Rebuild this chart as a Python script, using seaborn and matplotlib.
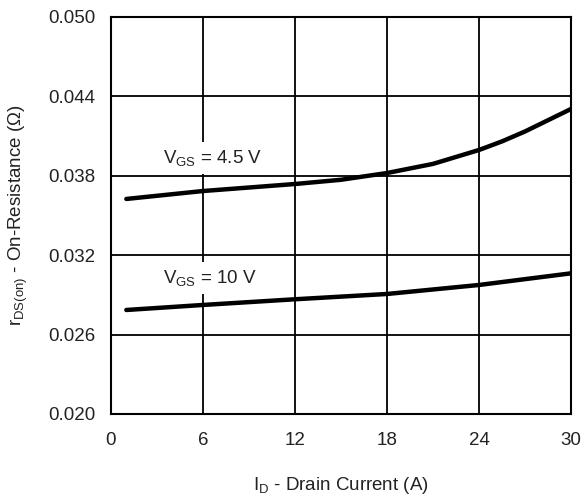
import matplotlib
matplotlib.use("Agg")
import matplotlib.pyplot as plt
import seaborn as sns
import pandas as pd

# Data
id_45 = [1, 6, 12, 15, 18, 21, 24, 25.5, 27, 28.5, 30]
r_45 = [0.03625, 0.03685, 0.03738, 0.0377, 0.03821, 0.0389, 0.03995, 0.0406, 0.04135, 0.0422, 0.04305]
id_10 = [1, 6, 12, 18, 24, 30]
r_10 = [0.02786, 0.02824, 0.02867, 0.02907, 0.02975, 0.03063]
x_ticks = [0, 6, 12, 18, 24, 30]
y_ticks = [0.020, 0.026, 0.032, 0.038, 0.044, 0.050]
y_tick_labels = ["0.020", "0.026", "0.032", "0.038", "0.044", "0.050"]

df = pd.concat([
    pd.DataFrame({"ID": id_45, "R": r_45, "VGS": "4.5 V"}),
    pd.DataFrame({"ID": id_10, "R": r_10, "VGS": "10 V"}),
])

sns.set_theme(style="white")
plt.rcParams['font.family'] = ['Liberation Sans', 'DejaVu Sans']
plt.rcParams['mathtext.fontset'] = 'custom'
plt.rcParams['mathtext.rm'] = 'Liberation Sans'
plt.rcParams['mathtext.it'] = 'Liberation Sans'

fig = plt.figure(figsize=(5.85, 5.00), dpi=100)
ax = fig.add_axes([111/585, 1-414/500, 460/585, 397/500])

sns.lineplot(data=df, x="ID", y="R", units="VGS", estimator=None,
             color="black", lw=3.2, ax=ax, legend=False, sort=True, zorder=3)

ax.set_xlim(0, 30)
ax.set_ylim(0.020, 0.050)
ax.set_xticks(x_ticks)
ax.set_yticks(y_ticks)
ax.set_yticklabels(y_tick_labels)
ax.grid(True, color="black", lw=1.3)
ax.set_axisbelow(True)
for s in ax.spines.values():
    s.set_color("black")
    s.set_linewidth(1.5)
ax.tick_params(axis="y", length=0, labelsize=13.5, colors="#222222", pad=11)
ax.tick_params(axis="x", length=0, labelsize=13.5, colors="#222222", pad=13)

ax.set_xlabel("$\\mathregular{I_D}$ - Drain Current (A)", fontsize=13.5, color="#222222", labelpad=19)
ax.set_ylabel("$\\mathregular{r_{DS(on)}}$ - On-Resistance (Ω)", fontsize=13.5, color="#222222", labelpad=13)

bbox = dict(facecolor="white", edgecolor="none", pad=4)
ax.text(3.4, 0.03934, "$\\mathregular{V_{GS}}$ = 4.5 V", fontsize=13.5, color="#222222",
        va="center", ha="left", bbox=bbox, zorder=4)
ax.text(3.4, 0.03028, "$\\mathregular{V_{GS}}$ = 10 V", fontsize=13.5, color="#222222",
        va="center", ha="left", bbox=bbox, zorder=4)

fig.savefig("out.png", dpi=100)
